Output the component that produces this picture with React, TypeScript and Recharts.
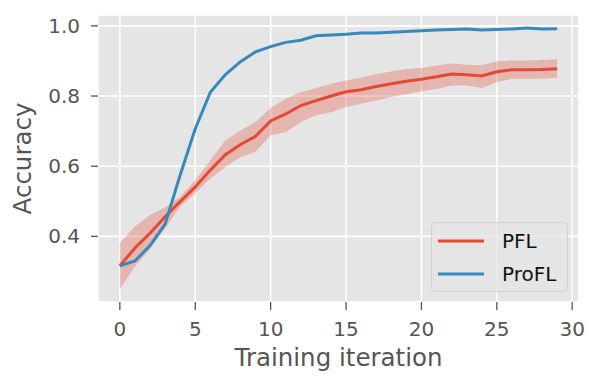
import {
  ComposedChart,
  Area,
  Line,
  XAxis,
  YAxis,
  CartesianGrid,
} from "recharts";

// Nilai dibaca dari gambar referensi
const iterations = [
  0, 1, 2, 3, 4, 5, 6, 7, 8, 9, 10, 11, 12, 13, 14, 15, 16, 17, 18, 19, 20,
  21, 22, 23, 24, 25, 26, 27, 28, 29,
];

const pflMean = [
  0.316, 0.367, 0.409, 0.456, 0.499, 0.541, 0.589, 0.633, 0.662, 0.685, 0.729,
  0.749, 0.773, 0.787, 0.8, 0.812, 0.818, 0.827, 0.835, 0.842, 0.848, 0.855,
  0.863, 0.861, 0.857, 0.869, 0.875, 0.875, 0.876, 0.878,
];

const pflUpper = [
  0.381, 0.428, 0.461, 0.483, 0.513, 0.56, 0.617, 0.674, 0.702, 0.726, 0.766,
  0.792, 0.811, 0.823, 0.835, 0.844, 0.852, 0.863, 0.87, 0.877, 0.88, 0.887,
  0.893, 0.889, 0.888, 0.899, 0.901, 0.901, 0.903, 0.905,
];

const pflLower = [
  0.25, 0.314, 0.364, 0.423, 0.485, 0.524, 0.565, 0.598, 0.626, 0.641, 0.688,
  0.697, 0.726, 0.745, 0.754, 0.769, 0.778, 0.787, 0.797, 0.806, 0.814, 0.82,
  0.83, 0.83, 0.823, 0.839, 0.849, 0.849, 0.849, 0.852,
];

const proflMean = [
  0.316, 0.33, 0.374, 0.435, 0.575, 0.707, 0.811, 0.861, 0.898, 0.926, 0.941,
  0.953, 0.959, 0.972, 0.974, 0.976, 0.98, 0.98, 0.982, 0.984, 0.986, 0.988,
  0.99, 0.991, 0.988, 0.99, 0.991, 0.994, 0.991, 0.992,
];

const xTicks = [0, 5, 10, 15, 20, 25, 30];
const yTicks = [0.4, 0.6, 0.8, 1.0];

const RED = "#E24A33";
const BLUE = "#348ABD";
const FONT = "DejaVu Sans";

const data = iterations.map((it, i) => ({
  it,
  band: [pflLower[i], pflUpper[i]],
  pfl: pflMean[i],
  profl: proflMean[i],
}));

const legendItems = [
  { name: "PFL", color: RED },
  { name: "ProFL", color: BLUE },
];

function LegendBox() {
  return (
    <div
      style={{
        position: "absolute",
        left: 431,
        top: 222,
        width: 137,
        height: 70,
        boxSizing: "border-box",
        border: "1px solid rgba(204,204,204,0.8)",
        background: "rgba(229,229,229,0.8)",
        borderRadius: 5,
        paddingTop: 1,
      }}
    >
      {legendItems.map((d) => (
        <div
          key={d.name}
          style={{ display: "flex", alignItems: "center", height: 33 }}
        >
          <svg width={46} height={6} style={{ marginLeft: 6 }}>
            <line x1={0} x2={46} y1={3} y2={3} stroke={d.color} strokeWidth={3} />
          </svg>
          <span
            style={{
              marginLeft: 18,
              fontFamily: FONT,
              fontSize: 20,
              color: "#111",
              lineHeight: "20px",
            }}
          >
            {d.name}
          </span>
        </div>
      ))}
    </div>
  );
}

export default function App() {
  return (
    <div
      style={{
        position: "absolute",
        left: 0,
        top: 0,
        width: 598,
        height: 385,
        background: "#fff",
      }}
    >
      <ComposedChart
        width={598}
        height={385}
        data={data}
        margin={{ top: 15, right: 19, bottom: 0, left: 0 }}
      >
        <CartesianGrid stroke="#ffffff" strokeWidth={1.6} fill="#E5E5E5" fillOpacity={1} />
        <XAxis
          dataKey="it"
          type="number"
          domain={[-1.45, 30.45]}
          ticks={xTicks}
          height={83}
          axisLine={false}
          tickSize={8}
          tickMargin={12}
          tickLine={{ stroke: "#555", strokeWidth: 1.3 }}
          tick={{ fontSize: 20, fill: "#555", fontFamily: FONT }}
          label={{
            value: "Training iteration",
            position: "insideBottom",
            offset: 19,
            fontSize: 24.5,
            fill: "#555",
            fontFamily: FONT,
          }}
        />
        <YAxis
          type="number"
          domain={[0.213, 1.031]}
          ticks={yTicks}
          width={98}
          axisLine={false}
          tickSize={7}
          tickMargin={11}
          tickLine={{ stroke: "#555", strokeWidth: 1.3 }}
          tickFormatter={(v) => Number(v).toFixed(1)}
          tick={{ fontSize: 20, fill: "#555", fontFamily: FONT }}
          label={{
            value: "Accuracy",
            angle: -90,
            position: "insideLeft",
            offset: 22,
            fontSize: 24.5,
            fill: "#555",
            fontFamily: FONT,
            style: { textAnchor: "middle" },
          }}
        />
        <Area
          dataKey="band"
          stroke="none"
          fill={RED}
          fillOpacity={0.3}
          isAnimationActive={false}
        />
        <Line
          dataKey="pfl"
          name="PFL"
          stroke={RED}
          strokeWidth={3}
          dot={false}
          isAnimationActive={false}
        />
        <Line
          dataKey="profl"
          name="ProFL"
          stroke={BLUE}
          strokeWidth={3}
          dot={false}
          isAnimationActive={false}
        />
      </ComposedChart>
      <LegendBox />
    </div>
  );
}
